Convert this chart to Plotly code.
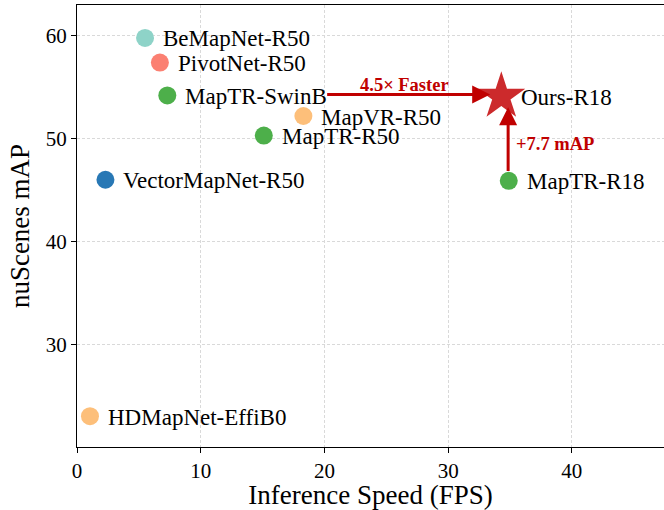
import plotly.graph_objects as go

methods = ["BeMapNet-R50", "PivotNet-R50", "MapTR-SwinB", "MapVR-R50", "MapTR-R50",
           "VectorMapNet-R50", "HDMapNet-EffiB0", "MapTR-R18"]
fps = [5.5, 6.7, 7.3, 18.3, 15.1, 2.3, 1.05, 34.9]
mAP = [59.8, 57.4, 54.2, 52.2, 50.3, 46.0, 23.0, 45.9]
colors = ["#8ed3c8", "#fb8072", "#4daf4a", "#fdbf7a", "#4daf4a", "#2878b5", "#fdbf7a", "#4daf4a"]

ours_name = "Ours-R18"
ours_fps = 34.3
ours_map = 54.1

x_ticks = [0, 10, 20, 30, 40]
y_ticks = [30, 40, 50, 60]

FONT = "Liberation Serif, Times New Roman, serif"
RED = "#c00000"

fig = go.Figure()
fig.add_trace(go.Scatter(x=fps, y=mAP, mode="markers",
                         marker=dict(size=18, color=colors, line=dict(width=0)),
                         showlegend=False, hoverinfo="text", text=methods))
fig.add_trace(go.Scatter(x=[ours_fps], y=[ours_map], mode="markers",
                         marker=dict(size=36, color="#cc2a2c", symbol="star", line=dict(width=0)),
                         showlegend=False))

for m, x, y in zip(methods, fps, mAP):
    fig.add_annotation(x=x, y=y, text=m, showarrow=False, xanchor="left", yanchor="middle",
                       xshift=16, yshift=-1, font=dict(family=FONT, size=23, color="black"))
fig.add_annotation(x=ours_fps, y=ours_map, text=ours_name, showarrow=False, xanchor="left",
                   yanchor="middle", xshift=18, yshift=-1, font=dict(family=FONT, size=23, color="black"))

# horizontal arrow (speed)
fig.add_annotation(x=33.4, y=54.3, ax=20.1, ay=54.3, axref="x", ayref="y", xref="x", yref="y",
                   showarrow=True, arrowhead=2, arrowsize=1.2, arrowwidth=3, arrowcolor=RED, text="")
fig.add_annotation(x=26.5, y=55.2, text="<b>4.5× Faster</b>", showarrow=False,
                   font=dict(family=FONT, size=18.5, color=RED))
# vertical arrow (accuracy)
fig.add_annotation(x=34.85, y=53.05, ax=34.85, ay=46.7, axref="x", ayref="y", xref="x", yref="y",
                   showarrow=True, arrowhead=2, arrowsize=1.2, arrowwidth=3, arrowcolor=RED, text="")
fig.add_annotation(x=35.3, y=49.45, text="<b>+7.7 mAP</b>", showarrow=False, xanchor="left",
                   font=dict(family=FONT, size=18.5, color=RED))

grid = dict(showgrid=True, gridcolor="#d9d9d9", griddash="3px,2px", gridwidth=0.8,
            ticks="outside", ticklen=5, tickcolor="black", tickwidth=1.2, zeroline=False,
            showline=True, linecolor="black", linewidth=1.3, automargin=False,
            tickfont=dict(family=FONT, size=21, color="black"))
fig.update_xaxes(range=[0, 47.45], tickvals=x_ticks, mirror=True,
                 title=dict(text="Inference Speed (FPS)", font=dict(family=FONT, size=27, color="black"), standoff=5),
                 **grid)
fig.update_yaxes(range=[20, 63], tickvals=y_ticks, mirror=False,
                 title=dict(text="nuScenes mAP", font=dict(family=FONT, size=27, color="black"), standoff=8),
                 **grid)
fig.update_layout(width=664, height=510, margin=dict(l=77, r=0, t=5, b=63),
                  plot_bgcolor="white", paper_bgcolor="white")
fig.write_html("out.html", config={"displayModeBar": False},
               post_script="document.body.style.margin='0';document.body.style.overflow='hidden';")
